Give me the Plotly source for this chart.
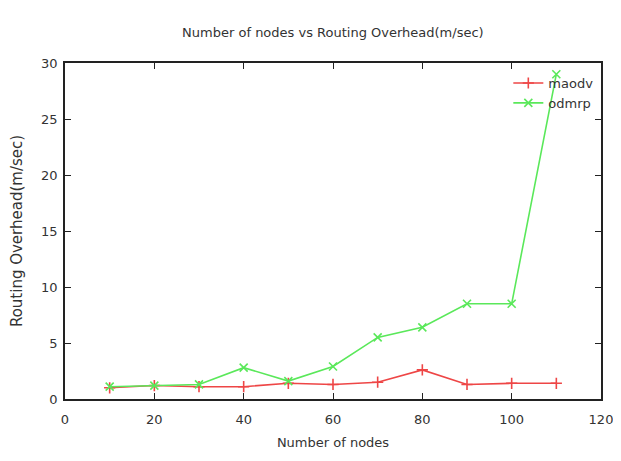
import plotly.graph_objects as go

nodes = [10, 20, 30, 40, 50, 60, 70, 80, 90, 100, 110]
maodv = [1.0, 1.2, 1.1, 1.1, 1.4, 1.3, 1.5, 2.6, 1.3, 1.4, 1.4]
odmrp = [1.1, 1.2, 1.3, 2.8, 1.6, 2.9, 5.5, 6.4, 8.5, 8.5, 29.0]

x_ticks = [0, 20, 40, 60, 80, 100, 120]
y_ticks = [0, 5, 10, 15, 20, 25, 30]

red = "rgb(238,70,70)"
green = "rgb(90,232,90)"
text_col = "#333333"
font_fam = "DejaVu Sans, Liberation Sans, sans-serif"

fig = go.Figure()
fig.add_trace(go.Scatter(x=nodes, y=maodv, name="maodv", mode="lines+markers",
                         line=dict(color=red, width=1.6),
                         marker=dict(symbol="cross-thin", size=8,
                                     line=dict(color=red, width=1.6))))
fig.add_trace(go.Scatter(x=nodes, y=odmrp, name="odmrp", mode="lines+markers",
                         line=dict(color=green, width=1.6),
                         marker=dict(symbol="x-thin", size=8,
                                     line=dict(color=green, width=1.6))))

axis_common = dict(showgrid=False, zeroline=False, showline=True, mirror="allticks",
                   linecolor="#222222", linewidth=1.5, ticks="inside", ticklen=6,
                   tickcolor="#222222", automargin=False,
                   tickfont=dict(size=13, color=text_col, family=font_fam))

fig.update_layout(
    width=613, height=453,
    margin=dict(l=57, r=20, t=55, b=62),
    paper_bgcolor="white", plot_bgcolor="white",
    title=dict(text="Number of nodes vs Routing Overhead(m/sec)", x=0.53, xanchor="center",
               y=0.945, yanchor="middle",
               font=dict(size=13, color=text_col, family=font_fam)),
    xaxis=dict(range=[0, 120], tickvals=x_ticks, ticklabelstandoff=8,
               title=dict(text="Number of nodes", standoff=12,
                          font=dict(size=13, color=text_col, family=font_fam)),
               **axis_common),
    yaxis=dict(range=[0, 30], tickvals=y_ticks, ticklabelstandoff=3,
               title=dict(text="Routing Overhead(m/sec)", standoff=22,
                          font=dict(size=15, color=text_col, family=font_fam)),
               **axis_common),
    legend=dict(x=0.995, y=0.985, xanchor="right", yanchor="top",
                bgcolor="rgba(0,0,0,0)", borderwidth=0,
                font=dict(size=13, color=text_col, family=font_fam),
                tracegroupgap=0, itemwidth=30),
    showlegend=True,
)

fig.write_html("out.html")
